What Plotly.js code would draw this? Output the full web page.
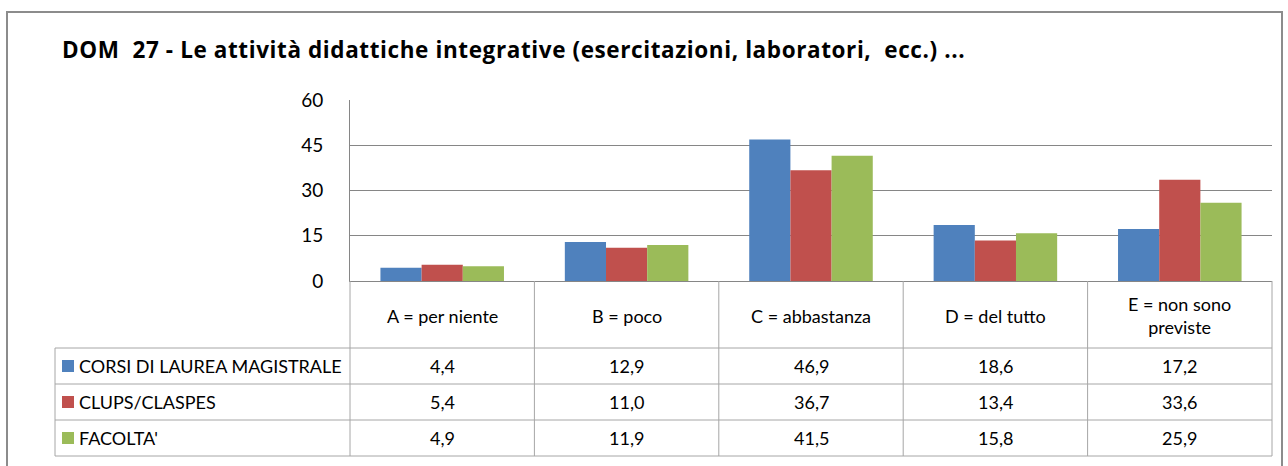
<!DOCTYPE html>
<html>
<head>
<meta charset="utf-8">
<script src="https://cdn.plot.ly/plotly-3.0.1.min.js"></script>
<style>
  html, body { margin: 0; padding: 0; background: #fff; }
  #chart { width: 1288px; height: 466px; }
  #chart .gtitle { letter-spacing: 0.6px; }
</style>
</head>
<body>
<div id="chart"></div>
<script>
// categories (header row of the table)
let categories = ['A = per niente', 'B = poco', 'C = abbastanza', 'D = del tutto', 'E = non sono<br>previste'];

// series
let seriesNames = ['CORSI DI LAUREA MAGISTRALE', 'CLUPS/CLASPES', "FACOLTA'"];
let corsiValues = [4.4, 12.9, 46.9, 18.6, 17.2];
let clupsValues = [5.4, 11.0, 36.7, 13.4, 33.6];
let facoltaValues = [4.9, 11.9, 41.5, 15.8, 25.9];

let yTicks = [0, 15, 30, 45, 60];

let colors = ['#4F81BD', '#C0504D', '#9BBB59'];
let allValues = [corsiValues, clupsValues, facoltaValues];

let font = 'Lato, "Open Sans", sans-serif';

// plot box in pixels (used to place the data table under the chart)
let W = 1288, H = 466;
let plotL = 350, plotR = 1272, plotT = 100, plotB = 281;
let plotH = plotB - plotT, plotW = plotR - plotL;
function py(p) { return (plotB - p) / plotH; }
function px(p) { return (p - plotL) / plotW; }

let data = allValues.map(function (vals, i) {
    return {
        x: categories,
        y: vals,
        type: 'bar',
        name: seriesNames[i],
        marker: { color: colors[i], line: { width: 0 } },
        hoverinfo: 'x+y+name'
    };
});

// table grid
let rowLines = [281, 348, 384, 420, 456];
let tableLeft = 55;
let lineStyle = { color: '#a6a6a6', width: 1 };
let shapes = [];

// outer chart border
shapes.push({ type: 'rect', xref: 'paper', yref: 'paper',
    x0: px(7), x1: px(1282), y0: py(12), y1: py(475),
    line: { color: '#8c8c8c', width: 2 } });

// column lines (one per category boundary)
for (let c = 0; c <= categories.length; c++) {
    shapes.push({ type: 'line', xref: 'paper', yref: 'paper',
        x0: c / categories.length, x1: c / categories.length,
        y0: py(rowLines[0]), y1: py(rowLines[rowLines.length - 1]), line: lineStyle });
}
// table left edge (series name column)
shapes.push({ type: 'line', xref: 'paper', yref: 'paper',
    x0: px(tableLeft), x1: px(tableLeft),
    y0: py(rowLines[1]), y1: py(rowLines[rowLines.length - 1]), line: lineStyle });
// row lines
for (let r = 1; r < rowLines.length; r++) {
    shapes.push({ type: 'line', xref: 'paper', yref: 'paper',
        x0: px(tableLeft), x1: 1,
        y0: py(rowLines[r]), y1: py(rowLines[r]), line: lineStyle });
}

let annotations = [];
// header labels
categories.forEach(function (cat, c) {
    annotations.push({ xref: 'paper', yref: 'paper',
        x: (c + 0.5) / categories.length, y: py((rowLines[0] + rowLines[1]) / 2 + 1),
        text: cat, showarrow: false, xanchor: 'center', yanchor: 'middle',
        font: { family: font, size: 18, color: '#000' } });
});
// value rows with legend keys
allValues.forEach(function (vals, i) {
    let yMid = (rowLines[i + 1] + rowLines[i + 2]) / 2;
    shapes.push({ type: 'rect', xref: 'paper', yref: 'paper',
        x0: px(62), x1: px(74), y0: py(yMid - 6), y1: py(yMid + 6),
        fillcolor: colors[i], line: { width: 0 } });
    annotations.push({ xref: 'paper', yref: 'paper',
        x: px(77), y: py(yMid), text: seriesNames[i], showarrow: false,
        xanchor: 'left', yanchor: 'middle',
        font: { family: font, size: 18, color: '#000' } });
    vals.forEach(function (v, c) {
        annotations.push({ xref: 'paper', yref: 'paper',
            x: (c + 0.5) / categories.length, y: py(yMid),
            text: v.toFixed(1).replace('.', ','), showarrow: false,
            xanchor: 'center', yanchor: 'middle',
            font: { family: font, size: 18, color: '#000' } });
    });
});

let layout = {
    width: W,
    height: H,
    paper_bgcolor: '#fff',
    plot_bgcolor: '#fff',
    showlegend: false,
    barmode: 'group',
    bargap: 0.33,
    bargroupgap: 0,
    margin: { l: plotL, r: W - plotR, t: plotT, b: H - plotB, pad: 0 },
    title: {
        text: '<b>DOM  27 - Le attività didattiche integrative (esercitazioni, laboratori,  ecc.) ...</b>',
        x: 62 / W, xref: 'container', xanchor: 'left',
        y: 1 - 50 / H, yref: 'container', yanchor: 'middle',
        font: { family: '"Open Sans", Lato, sans-serif', size: 22.5, color: '#000' }
    },
    xaxis: {
        showticklabels: false,
        showline: true,
        linecolor: '#868686',
        linewidth: 1,
        ticks: '',
        showgrid: false,
        zeroline: false,
        fixedrange: true
    },
    yaxis: {
        range: [0, 60],
        tickvals: yTicks,
        ticktext: yTicks.map(String),
        showline: true,
        linecolor: '#868686',
        linewidth: 1,
        ticks: '',
        ticklabelstandoff: 22,
        showgrid: true,
        gridcolor: '#868686',
        gridwidth: 1,
        zeroline: false,
        tickfont: { family: font, size: 19, color: '#000' },
        fixedrange: true
    },
    shapes: shapes,
    annotations: annotations
};

Plotly.newPlot('chart', data, layout, { displayModeBar: false, staticPlot: true });
</script>
</body>
</html>
